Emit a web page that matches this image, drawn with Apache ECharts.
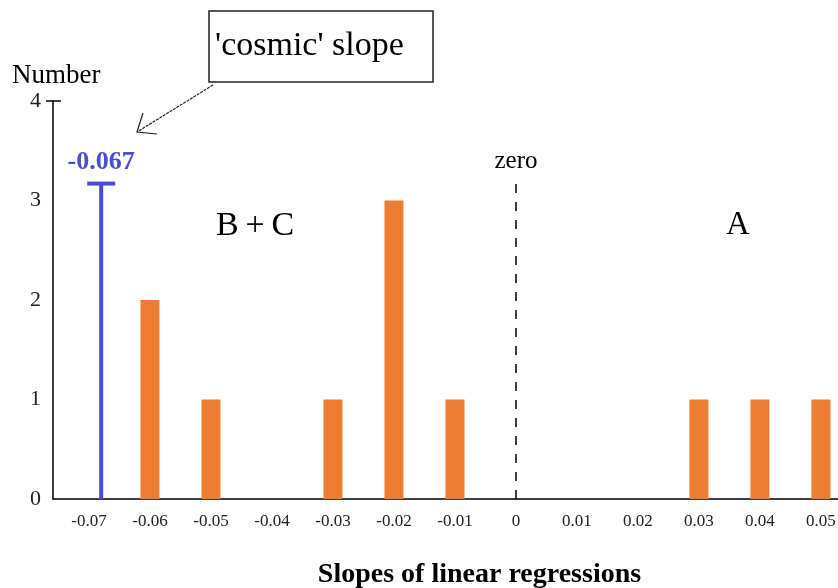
<!DOCTYPE html>
<html>
<head>
<meta charset="utf-8">
<script src="https://cdn.jsdelivr.net/npm/echarts@6/dist/echarts.min.js"></script>
<style>html,body{margin:0;padding:0;background:#fff}#c{width:838px;height:588px}</style>
</head>
<body>
<div id="c"></div>
<script>
// ---- data ----
const slopes = [-0.06, -0.05, -0.03, -0.02, -0.01, 0.03, 0.04, 0.05];
const counts = [2, 1, 1, 3, 1, 1, 1, 1];
const cosmicSlopeLabel = '-0.067';
const cosmicSlopePos = -0.068;
const cosmicHeight = 3.17;
const zeroLineTop = 3.25;
const xTickValues = [-0.07, -0.06, -0.05, -0.04, -0.03, -0.02, -0.01, 0, 0.01, 0.02, 0.03, 0.04, 0.05];
const xTickLabels = ['-0.07', '-0.06', '-0.05', '-0.04', '-0.03', '-0.02', '-0.01', '0', '0.01', '0.02', '0.03', '0.04', '0.05'];
const yTickLabels = ['0', '1', '2', '3', '4'];

const serif = '"Liberation Serif", "Times New Roman", serif';
const chart = echarts.init(document.getElementById('c'), null, {renderer: 'canvas'});

const barData = slopes.map((s, i) => [s, counts[i]]);

chart.setOption({
  animation: false,
  grid: {left: 53, right: 0, top: 101, bottom: 89, containLabel: false, outerBoundsMode: 'none'},
  xAxis: {
    type: 'value',
    min: -0.0759,
    max: 0.0528,
    axisLine: {show: true, onZero: false, lineStyle: {color: '#000', width: 1.5}},
    axisTick: {show: false},
    splitLine: {show: false},
    axisLabel: {
      customValues: xTickValues,
      margin: 14,
      color: '#222',
      fontFamily: serif,
      fontSize: 17,
      formatter: v => {
        const i = xTickValues.findIndex(t => Math.abs(t - v) < 1e-9);
        return i >= 0 ? xTickLabels[i] : '';
      }
    },
    name: 'Slopes of linear regressions',
    nameLocation: 'middle',
    nameGap: 62,
    nameTextStyle: {fontFamily: serif, fontWeight: 'bold', fontSize: 28, color: '#000', padding: [0, 0, 0, 68]}
  },
  yAxis: [{
    type: 'value',
    min: 0, max: 4, interval: 1,
    axisLine: {show: true, onZero: false, lineStyle: {color: '#000', width: 1.5}},
    axisTick: {show: true, customValues: [4], length: 7, lineStyle: {color: '#000', width: 1.5}},
    splitLine: {show: false},
    axisLabel: {
      margin: 12, color: '#222', fontFamily: serif, fontSize: 22,
      formatter: v => yTickLabels[Math.round(v)]
    }
  }, {
    type: 'value', position: 'left',
    min: 0, max: 4, interval: 1,
    axisLine: {show: false, onZero: false},
    axisTick: {show: true, inside: true, customValues: [4], length: 8, lineStyle: {color: '#000', width: 1.5}},
    axisLabel: {show: false},
    splitLine: {show: false}
  }],
  series: [{
    type: 'bar',
    data: barData,
    barWidth: 19,
    itemStyle: {color: '#ED7D31'},
    markLine: {
      silent: true,
      symbol: 'none',
      lineStyle: {color: '#000', type: [9, 9], width: 1.5},
      label: {show: true, position: 'end', formatter: 'zero', fontFamily: serif, fontSize: 25, color: '#000', distance: 2},
      data: [[{coord: [0, 0]}, {coord: [0, zeroLineTop]}]]
    }
  }, {
    type: 'line',
    data: [
      {value: [cosmicSlopePos, 0], symbol: 'none'},
      {value: [cosmicSlopePos, cosmicHeight], symbol: 'rect', symbolSize: [28, 4],
       label: {show: true, position: 'top', distance: 6, formatter: cosmicSlopeLabel,
               fontFamily: serif, fontWeight: 'bold', fontSize: 26, color: '#4B4BD6'}}
    ],
    lineStyle: {color: '#4B4BD6', width: 4},
    itemStyle: {color: '#4B4BD6'},
    z: 5
  }],
  graphic: [
    {type: 'text', left: 12, top: 62, style: {text: 'Number', fontFamily: serif, fontSize: 27, fill: '#000'}},
    {type: 'text', left: 216, top: 209, style: {text: 'B\u2009+\u2009C', fontFamily: serif, fontSize: 34, fill: '#000'}},
    {type: 'text', left: 726, top: 209, style: {text: 'A', fontFamily: serif, fontSize: 33, fill: '#000'}},
    {type: 'rect', shape: {x: 209, y: 11, width: 224, height: 71}, style: {fill: '#fff', stroke: '#222', lineWidth: 1.5}},
    {type: 'text', left: 215, top: 29, style: {text: "'cosmic' slope", fontFamily: serif, fontSize: 34, fill: '#000'}},
    {type: 'line', shape: {x1: 213, y1: 85, x2: 137, y2: 132}, style: {stroke: '#222', lineWidth: 1.2, lineDash: [3, 1]}},
    {type: 'polyline', shape: {points: [[143, 113], [137, 132], [157, 134]]}, style: {stroke: '#222', lineWidth: 1.2, fill: null}}
  ]
});
</script>
</body>
</html>
